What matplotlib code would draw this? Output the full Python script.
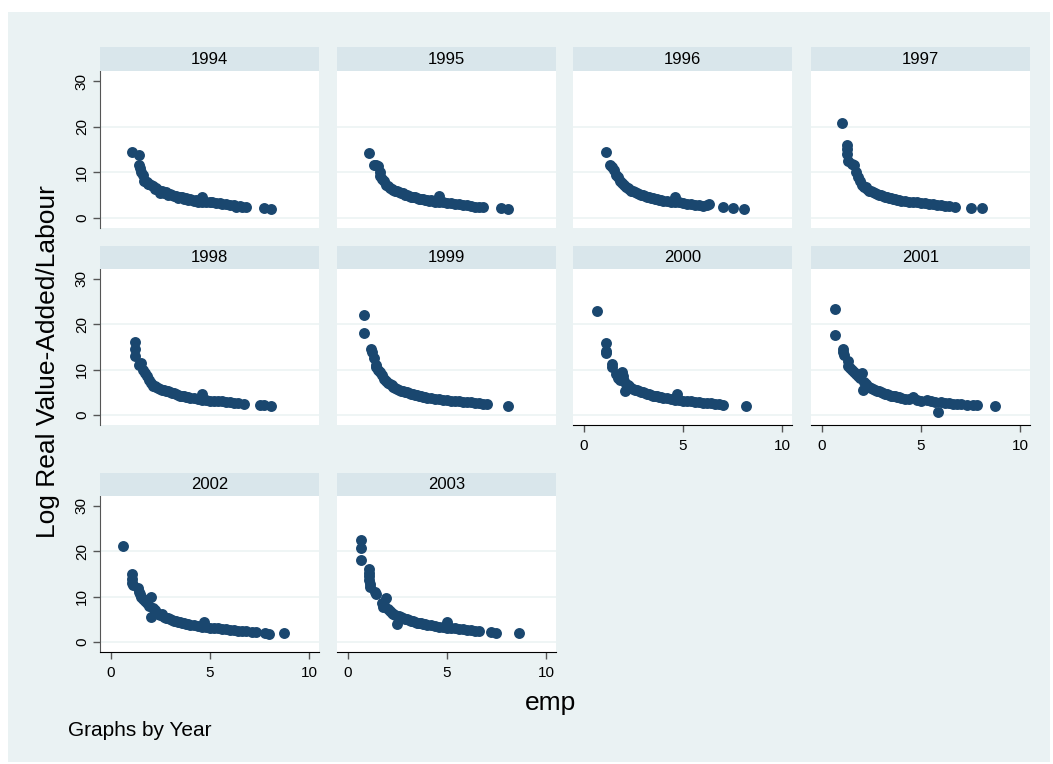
import matplotlib.pyplot as plt
from matplotlib.patches import Rectangle

plt.rcParams['font.family'] = ['Liberation Sans', 'DejaVu Sans']

years = ['1994', '1995', '1996', '1997', '1998', '1999', '2000', '2001', '2002', '2003']

x_1994 = [1.05, 1.4, 1.4, 1.45, 1.5, 1.6, 1.65, 1.7, 1.8, 1.85, 1.9, 2.0, 2.1, 2.2, 2.3, 2.4, 2.5, 2.6,
          2.7, 2.8, 2.9, 3.0, 3.1, 3.2, 3.3, 3.4, 3.5, 3.6, 3.7, 3.8, 3.9, 4.0, 4.1, 4.2, 4.3, 4.4,
          4.6, 4.6, 4.8, 5.0, 5.1, 5.3, 5.5, 5.6, 5.8, 6.0, 6.2, 6.3, 6.5, 6.6, 6.8, 7.7, 8.1]
y_1994 = [14.5, 13.8, 11.5, 11.0, 10.0, 9.5, 8.2, 8.0, 7.8, 7.5, 7.4, 7.2, 7.0, 6.4, 6.6, 6.2, 5.5, 5.8,
          5.5, 5.6, 5.0, 5.3, 5.0, 4.8, 4.9, 4.4, 4.6, 4.5, 4.1, 4.3, 4.0, 4.2, 3.9, 3.8, 4.0, 3.6,
          4.6, 3.5, 3.6, 3.4, 3.5, 3.2, 3.3, 3.0, 3.1, 2.9, 2.8, 2.5, 2.7, 2.4, 2.5, 2.2, 1.9]

x_1995 = [1.05, 1.3, 1.4, 1.5, 1.6, 1.6, 1.7, 1.8, 1.9, 2.0, 2.1, 2.2, 2.3, 2.4, 2.5, 2.6, 2.7, 2.8,
          2.9, 3.0, 3.1, 3.2, 3.3, 3.4, 3.5, 3.6, 3.7, 3.8, 3.9, 4.0, 4.1, 4.2, 4.3, 4.4, 4.6, 4.6,
          4.8, 5.0, 5.2, 5.4, 5.6, 5.8, 6.0, 6.2, 6.4, 6.6, 6.8, 7.7, 8.1]
y_1995 = [14.2, 11.5, 11.6, 11.4, 10.0, 9.3, 8.5, 8.0, 7.2, 7.0, 6.6, 6.4, 6.2, 5.8, 5.9, 5.6, 5.4, 5.5,
          5.1, 5.0, 4.9, 4.7, 4.6, 4.5, 4.4, 4.2, 4.1, 4.2, 3.9, 4.0, 3.8, 3.9, 3.7, 3.6, 4.8, 3.5,
          3.4, 3.3, 3.2, 3.0, 3.0, 2.9, 2.8, 2.6, 2.5, 2.3, 2.4, 2.2, 2.0]

x_1996 = [1.1, 1.3, 1.4, 1.5, 1.6, 1.7, 1.8, 1.9, 2.0, 2.1, 2.2, 2.3, 2.4, 2.5, 2.6, 2.7, 2.8, 2.9,
          3.0, 3.1, 3.2, 3.3, 3.4, 3.5, 3.6, 3.7, 3.8, 3.9, 4.0, 4.2, 4.4, 4.6, 4.6, 4.8, 5.0, 5.2,
          5.4, 5.6, 5.8, 6.0, 6.2, 6.3, 7.0, 7.5, 8.1]
y_1996 = [14.5, 11.7, 11.2, 10.5, 9.5, 9.0, 8.2, 7.6, 7.2, 6.8, 6.5, 6.3, 6.0, 5.8, 5.6, 5.5, 5.3, 5.1,
          5.0, 4.8, 4.7, 4.6, 4.4, 4.3, 4.2, 4.1, 4.0, 3.9, 3.8, 3.7, 3.6, 4.7, 3.5, 3.4, 3.2, 3.1,
          3.0, 2.9, 2.8, 2.7, 2.8, 3.0, 2.3, 2.1, 2.0]

x_1997 = [1.0, 1.25, 1.25, 1.25, 1.3, 1.5, 1.6, 1.7, 1.8, 1.9, 2.0, 2.1, 2.2, 2.3, 2.4, 2.5, 2.6, 2.7,
          2.8, 2.9, 3.0, 3.1, 3.2, 3.3, 3.4, 3.5, 3.6, 3.7, 3.8, 3.9, 4.0, 4.2, 4.4, 4.6, 4.8, 5.0,
          5.2, 5.4, 5.6, 5.8, 6.0, 6.2, 6.4, 6.7, 7.5, 8.1]
y_1997 = [20.8, 16.0, 15.0, 14.0, 12.5, 11.8, 11.5, 10.0, 9.0, 8.0, 7.2, 6.8, 6.7, 6.3, 6.0, 5.8, 5.6, 5.4,
          5.3, 5.1, 5.0, 4.8, 4.6, 4.5, 4.4, 4.3, 4.2, 4.1, 4.0, 3.9, 3.8, 3.7, 3.6, 3.5, 3.4, 3.3,
          3.2, 3.1, 3.0, 2.9, 2.8, 2.7, 2.6, 2.4, 2.2, 2.1]

x_1998 = [1.2, 1.2, 1.2, 1.4, 1.5, 1.6, 1.7, 1.8, 1.9, 2.0, 2.1, 2.2, 2.3, 2.4, 2.5, 2.6, 2.7, 2.8,
          2.9, 3.0, 3.1, 3.2, 3.3, 3.4, 3.5, 3.6, 3.7, 3.8, 3.9, 4.0, 4.2, 4.4, 4.6, 4.6, 4.8, 5.0,
          5.2, 5.4, 5.6, 5.8, 6.0, 6.2, 6.4, 6.7, 7.5, 7.7, 8.1]
y_1998 = [16.0, 14.5, 13.0, 11.0, 11.4, 10.0, 9.2, 8.5, 7.8, 7.0, 6.3, 6.5, 6.2, 5.9, 5.8, 5.5, 5.6, 5.3,
          5.2, 5.0, 4.9, 4.8, 4.6, 4.5, 4.3, 4.2, 4.1, 4.0, 3.9, 3.8, 3.7, 3.6, 4.6, 3.4, 3.3, 3.2,
          3.1, 3.0, 3.0, 2.9, 2.8, 2.7, 2.6, 2.5, 2.3, 2.1, 2.0]

x_1999 = [0.8, 0.8, 1.15, 1.2, 1.3, 1.4, 1.4, 1.5, 1.6, 1.7, 1.8, 1.9, 2.0, 2.1, 2.2, 2.3, 2.4, 2.5,
          2.6, 2.7, 2.8, 2.9, 3.0, 3.1, 3.2, 3.3, 3.4, 3.5, 3.6, 3.7, 3.8, 3.9, 4.0, 4.2, 4.4, 4.6,
          4.8, 5.0, 5.2, 5.4, 5.6, 5.8, 6.0, 6.2, 6.4, 6.6, 6.8, 7.0, 8.1]
y_1999 = [22.0, 18.0, 14.5, 14.0, 12.5, 11.0, 10.5, 10.0, 9.5, 8.8, 8.0, 7.5, 7.0, 6.8, 6.6, 6.2, 6.0, 5.8,
          5.6, 5.4, 5.3, 5.1, 5.0, 4.9, 4.7, 4.6, 4.5, 4.4, 4.3, 4.1, 4.0, 3.9, 3.8, 3.7, 3.6, 3.5,
          3.4, 3.3, 3.2, 3.1, 3.0, 2.9, 2.9, 2.8, 2.7, 2.6, 2.5, 2.4, 2.0]

x_2000 = [0.67, 1.1, 1.1, 1.1, 1.4, 1.4, 1.6, 1.7, 1.8, 1.9, 1.95, 2.0, 2.05, 2.1, 2.2, 2.3, 2.4, 2.5,
          2.6, 2.7, 2.8, 2.9, 3.0, 3.1, 3.2, 3.3, 3.4, 3.5, 3.6, 3.7, 3.8, 3.9, 4.0, 4.2, 4.4, 4.6,
          4.7, 4.8, 5.0, 5.2, 5.4, 5.6, 5.8, 6.0, 6.2, 6.4, 6.6, 6.8, 7.0, 8.2]
y_2000 = [23.0, 15.8, 14.2, 13.6, 11.2, 10.6, 9.0, 8.2, 7.8, 9.5, 8.6, 7.4, 5.4, 6.8, 6.6, 6.3, 6.0, 5.8,
          5.6, 5.5, 5.3, 5.1, 5.0, 4.8, 4.7, 4.6, 4.4, 4.3, 4.2, 4.1, 4.0, 3.9, 3.8, 3.7, 3.5, 3.4,
          4.6, 3.3, 3.2, 3.1, 3.0, 2.9, 2.8, 2.7, 2.7, 2.6, 2.5, 2.4, 2.3, 2.0]

x_2001 = [0.67, 0.67, 1.05, 1.05, 1.1, 1.3, 1.3, 1.4, 1.5, 1.6, 1.7, 1.8, 1.9, 2.0, 2.05, 2.1, 2.2, 2.3,
          2.4, 2.5, 2.6, 2.7, 2.8, 2.9, 3.0, 3.1, 3.2, 3.3, 3.4, 3.5, 3.6, 3.7, 3.8, 3.9, 4.0, 4.2,
          4.4, 4.6, 4.8, 5.0, 5.3, 5.5, 5.7, 5.85, 6.0, 6.2, 6.4, 6.6, 6.8, 7.0, 7.3, 7.6, 7.85, 8.75]
y_2001 = [23.3, 17.7, 14.6, 13.8, 13.2, 12.0, 10.8, 10.3, 10.0, 9.5, 9.0, 8.6, 8.2, 9.2, 5.6, 7.2, 6.9, 6.5,
          6.2, 6.0, 5.8, 5.6, 5.4, 5.2, 5.1, 4.9, 4.7, 4.6, 4.5, 4.3, 4.2, 4.1, 4.0, 3.9, 3.8, 3.6,
          3.5, 3.9, 3.4, 3.2, 3.4, 3.0, 2.9, 0.6, 2.8, 2.7, 2.6, 2.5, 2.5, 2.4, 2.3, 2.2, 2.2, 2.0]

x_2002 = [0.62, 1.07, 1.07, 1.07, 1.1, 1.35, 1.4, 1.45, 1.5, 1.6, 1.7, 1.8, 1.9, 2.0, 2.0, 2.1, 2.2, 2.3,
          2.4, 2.5, 2.6, 2.7, 2.8, 2.9, 3.0, 3.1, 3.2, 3.3, 3.4, 3.5, 3.6, 3.7, 3.8, 3.9, 4.0, 4.2,
          4.4, 4.6, 4.7, 4.8, 5.0, 5.2, 5.4, 5.6, 5.8, 6.0, 6.2, 6.4, 6.6, 6.8, 7.1, 7.3, 7.8, 8.0, 8.75]
y_2002 = [21.2, 15.0, 14.0, 13.0, 12.6, 12.0, 11.0, 10.5, 10.0, 9.5, 9.0, 8.6, 8.0, 10.0, 5.6, 7.4, 7.0, 6.6,
          6.2, 6.0, 6.2, 5.6, 5.4, 5.2, 5.1, 4.9, 4.7, 4.6, 4.5, 4.4, 4.2, 4.1, 4.0, 3.9, 3.8, 3.7,
          3.5, 3.4, 4.4, 3.3, 3.2, 3.1, 3.0, 2.9, 2.8, 2.7, 2.6, 2.5, 2.5, 2.4, 2.3, 2.2, 2.0, 1.8, 1.9]

x_2003 = [0.64, 0.64, 0.64, 1.05, 1.05, 1.07, 1.07, 1.1, 1.1, 1.35, 1.4, 1.7, 1.75, 1.8, 1.9, 2.0, 2.1, 2.2,
          2.3, 2.4, 2.5, 2.6, 2.7, 2.8, 2.9, 3.0, 3.1, 3.2, 3.3, 3.4, 3.5, 3.6, 3.7, 3.8, 3.9, 4.0,
          4.2, 4.4, 4.6, 4.8, 5.0, 5.0, 5.2, 5.4, 5.6, 5.8, 6.0, 6.2, 6.4, 6.6, 7.2, 7.45, 8.65]
y_2003 = [22.5, 20.8, 18.1, 16.0, 15.2, 14.5, 13.6, 12.8, 12.2, 11.0, 10.6, 8.6, 7.8, 8.2, 9.7, 7.2, 6.8, 6.5,
          6.2, 6.0, 3.9, 5.7, 5.5, 5.3, 5.1, 5.0, 4.8, 4.7, 4.6, 4.4, 4.3, 4.2, 4.1, 4.0, 3.9, 3.8,
          3.7, 3.5, 3.4, 3.3, 3.2, 4.4, 3.1, 3.0, 2.9, 2.8, 2.7, 2.6, 2.5, 2.4, 2.2, 2.0, 2.0]

xs = [x_1994, x_1995, x_1996, x_1997, x_1998, x_1999, x_2000, x_2001, x_2002, x_2003]
ys = [y_1994, y_1995, y_1996, y_1997, y_1998, y_1999, y_2000, y_2001, y_2002, y_2003]

W, H = 1053, 764
BG = '#EAF2F3'
STRIP = '#D9E6EB'
DOT = '#1A476F'

fig = plt.figure(figsize=(W / 100, H / 100), dpi=100)
fig.patches.append(Rectangle((8 / W, 1 - 762 / H), 1042 / W, 750 / H, transform=fig.transFigure,
                             facecolor=BG, edgecolor='none', zorder=-10))

# pixel layout of the panel grid
col_left = [100, 337, 573, 811]
col_w = 219
plot_rows = [(71, 228), (269, 425), (496, 652)]
strip_rows = [(47, 71), (246, 269), (473, 496)]

for i, yr in enumerate(years):
    r, c = i // 4, i % 4
    left = col_left[c]
    top, bot = plot_rows[r]
    ax = fig.add_axes([left / W, 1 - bot / H, col_w / W, (bot - top) / H])
    ax.set_facecolor('white')
    ax.scatter(xs[i], ys[i], s=62, color=DOT, linewidths=0, zorder=3)
    ax.set_xlim(-0.55, 10.5)
    ax.set_ylim(-2.2, 32.2)
    for g in [0, 10, 20]:
        ax.axhline(g, color='#EEF4F5', lw=1.3, zorder=1)
    ax.set_yticks([0, 10, 20, 30])
    ax.set_xticks([0, 5, 10])
    for s in ['top', 'right']:
        ax.spines[s].set_visible(False)
    show_y = c == 0
    show_x = i >= 6
    ax.spines['left'].set_visible(show_y)
    ax.spines['left'].set_color('#555555')
    ax.spines['bottom'].set_visible(show_x)
    ax.spines['bottom'].set_color('black')
    ax.tick_params(axis='y', left=show_y, labelleft=show_y, length=5, width=1,
                   color='#555555', labelsize=11, pad=3, labelrotation=90)
    for lbl in ax.get_yticklabels():
        lbl.set_va('center')
    ax.tick_params(axis='x', bottom=show_x, labelbottom=show_x, length=5, width=1,
                   color='#555555', labelsize=11, pad=5)

    st, sb = strip_rows[r]
    sax = fig.add_axes([left / W, 1 - sb / H, col_w / W, (sb - st) / H])
    sax.set_facecolor(STRIP)
    sax.set_xticks([])
    sax.set_yticks([])
    for s in sax.spines.values():
        s.set_visible(False)
    sax.text(0.5, 0.5, yr, ha='center', va='center', fontsize=12, transform=sax.transAxes)

fig.text(48 / W, 1 - 362 / H, 'Log Real Value-Added/Labour', rotation=90,
         ha='center', va='center', fontsize=19)
fig.text(551 / W, 1 - 703 / H, 'emp', ha='center', va='center', fontsize=19)
fig.text(68 / W, 1 - 731 / H, 'Graphs by Year', ha='left', va='center', fontsize=15)

fig.savefig('out.png', dpi=100)
